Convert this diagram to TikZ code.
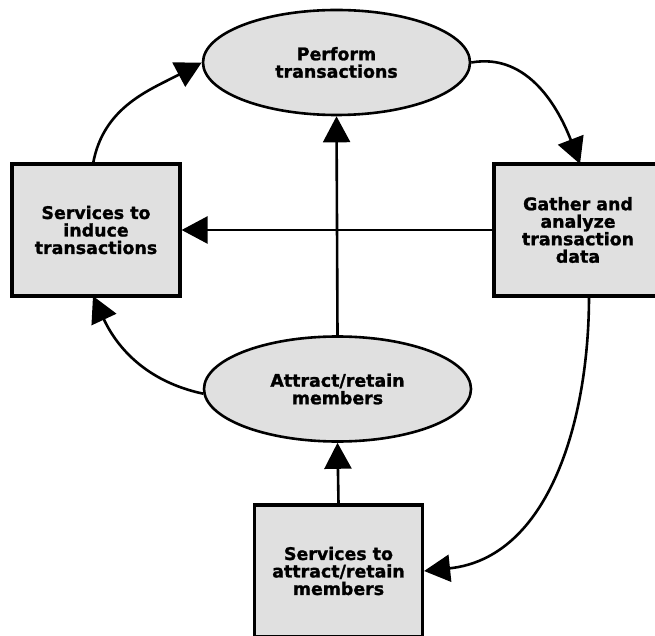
\documentclass[tikz,border=0pt]{standalone}
\usepackage{fontspec}
\setmainfont{DejaVu Sans}
\newfontfamily\heavyfont{DejaVu Sans Bold}[FakeBold=1.3]
\usetikzlibrary{arrows.meta,shapes.geometric}
\definecolor{boxgray}{RGB}{224,224,224}
\tikzset{
  lbl/.style={font=\heavyfont\fontsize{17.4}{17.5}\selectfont, align=center, text=black},
  oval/.style={ellipse, draw=black, fill=boxgray, line width=2.6pt, inner sep=0pt, minimum width=267pt, minimum height=105pt, lbl},
  sqbox/.style={rectangle, draw=black, fill=boxgray, line width=3.2pt, inner sep=0pt, minimum width=168pt, minimum height=132pt, lbl},
  conn/.style={line width=2.6pt, -{Triangle[length=26pt, width=27pt]}}
}
\begin{document}
\begin{tikzpicture}[x=1pt,y=1pt]
\useasboundingbox (0,0) rectangle (655,635);
\node[oval] (perform) at (336.5,572.5) {Perform\\transactions};
\node[oval] (attract) at (337.5,246) {Attract/retain\\members};
\node[sqbox] (lbox) at (96,405) {Services to\\induce\\transactions};
\node[sqbox] (rbox) at (578,405) {Gather and\\analyze\\transaction\\data};
\node[sqbox] (bbox) at (338.5,64) {Services to\\attract/retain\\members};
\coordinate (rboxbot) at (589,339);
\coordinate (lboxtop) at (93,471);
\coordinate (lboxbot) at (93,339);
\coordinate (rboxtop) at (580,471);
\draw[conn] (attract.north) -- (perform.south);
\draw[conn] (rbox.west) -- (lbox.east);
\draw[conn] (bbox.north) -- (attract.south);
\draw[conn] (lboxtop) to[out=80, in=208] (perform.west);
\draw[conn] (perform.east) to[out=10, in=111] (rboxtop);
\draw[conn] (attract.182) to[out=168, in=295] (lboxbot);
\draw[conn] (rboxbot) to[out=270, in=6] (bbox.east);
\end{tikzpicture}
\end{document}
